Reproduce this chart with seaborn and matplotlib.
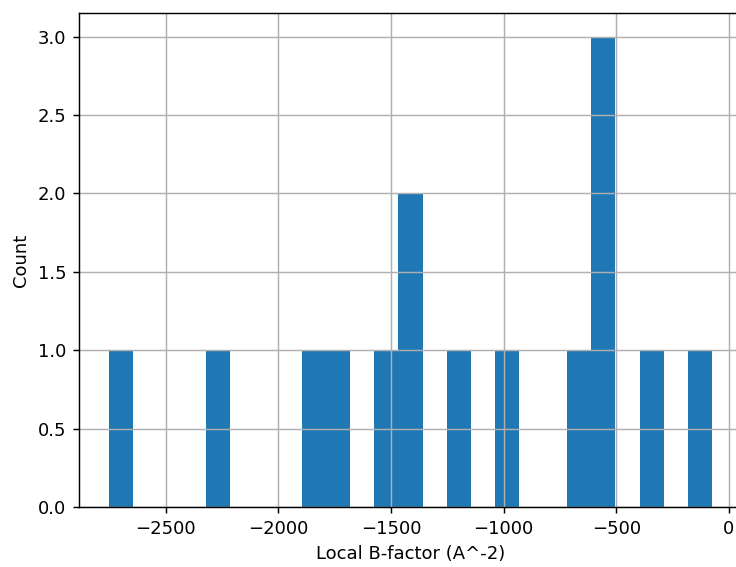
import numpy as np
import matplotlib
matplotlib.use("Agg")
import matplotlib.pyplot as plt
import seaborn as sns

# local B-factor values (A^-2)
b_factors = [
    -2752, -2270, -1840, -1735, -1520, -1410, -1400,
    -1200, -985, -665, -560, -550, -540, -345, -75.6,
]
n_bins = 25

# reference looks like a default matplotlib figure rendered ~1.3x
dpi = 130
fig = plt.figure(figsize=(736 / dpi, 567 / dpi), dpi=dpi)
ax = fig.add_axes([79 / 736, 60 / 567, (742 - 79) / 736, (507 - 13) / 567])

sns.histplot(x=b_factors, bins=n_bins, ax=ax, color="#1f77b4", alpha=1,
             linewidth=0)
ax.grid(True)
ax.set_xlabel("Local B-factor (A^-2)")
ax.set_ylabel("Count")

fig.savefig("out.png", dpi=dpi)
